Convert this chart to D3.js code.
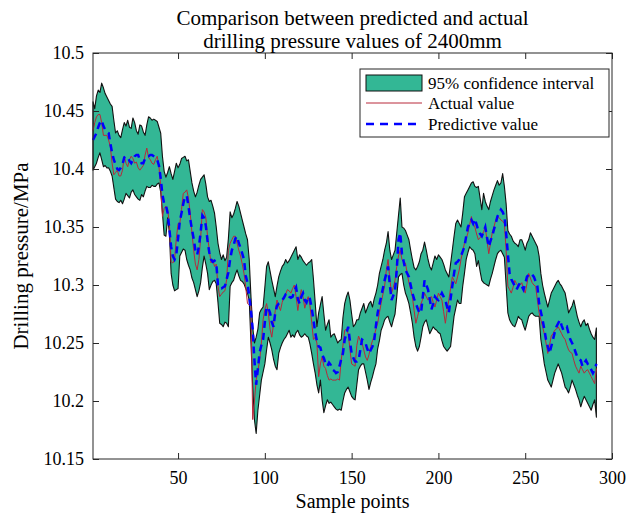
<!DOCTYPE html>
<html>
<head>
<meta charset="utf-8">
<script src="https://cdn.jsdelivr.net/npm/d3@7"></script>
</head>
<body style="margin:0; background:#fff">
<svg id="chart" width="628" height="519"></svg>
<script>
"use strict";

// Chart data
const titleLines = ["Comparison between predicted and actual", "drilling pressure values of 2400mm"];
const xLabel = "Sample points";
const yLabel = "Drilling pressure/MPa";
const xTicks = [50, 100, 150, 200, 250, 300];
const yTicks = [10.15, 10.2, 10.25, 10.3, 10.35, 10.4, 10.45, 10.5];
const yTickLabels = ["10.15", "10.2", "10.25", "10.3", "10.35", "10.4", "10.45", "10.5"];
const legendLabels = ["95% confidence interval", "Actual value", "Predictive value"];

const upper = [
	10.458, 10.452, 10.463, 10.468, 10.466, 10.474, 10.470, 10.465, 10.462, 10.459,
	10.456, 10.454, 10.442, 10.431, 10.433, 10.429, 10.427, 10.434, 10.440, 10.437,
	10.442, 10.436, 10.435, 10.444, 10.440, 10.433, 10.430, 10.438, 10.437, 10.432,
	10.429, 10.438, 10.445, 10.444, 10.442, 10.443, 10.442, 10.441, 10.436, 10.431,
	10.411, 10.398, 10.393, 10.397, 10.402, 10.396, 10.391, 10.398, 10.405, 10.401,
	10.404, 10.409, 10.410, 10.411, 10.407, 10.408, 10.398, 10.388, 10.381, 10.376,
	10.380, 10.386, 10.391, 10.393, 10.395, 10.387, 10.376, 10.372, 10.373, 10.368,
	10.362, 10.350, 10.336, 10.328, 10.322, 10.326, 10.321, 10.324, 10.340, 10.363,
	10.358, 10.361, 10.366, 10.372, 10.368, 10.362, 10.356, 10.350, 10.344, 10.339,
	10.322, 10.290, 10.264, 10.250, 10.255, 10.262, 10.276, 10.279, 10.281, 10.298,
	10.316, 10.320, 10.312, 10.304, 10.297, 10.290, 10.299, 10.307, 10.312, 10.316,
	10.318, 10.322, 10.319, 10.321, 10.324, 10.327, 10.330, 10.333, 10.322, 10.326,
	10.324, 10.321, 10.319, 10.317, 10.319, 10.320, 10.322, 10.305, 10.285, 10.264,
	10.276, 10.283, 10.290, 10.275, 10.261, 10.266, 10.270, 10.255, 10.257, 10.258,
	10.254, 10.250, 10.252, 10.253, 10.272, 10.284, 10.290, 10.294, 10.287, 10.275,
	10.264, 10.266, 10.270, 10.270, 10.276, 10.280, 10.284, 10.276, 10.280, 10.284,
	10.286, 10.281, 10.288, 10.293, 10.300, 10.310, 10.316, 10.322, 10.330, 10.336,
	10.346, 10.330, 10.322, 10.326, 10.330, 10.345, 10.360, 10.375, 10.350, 10.349,
	10.347, 10.343, 10.339, 10.330, 10.322, 10.315, 10.313, 10.316, 10.320, 10.327,
	10.330, 10.337, 10.330, 10.322, 10.316, 10.313, 10.319, 10.325, 10.322, 10.326,
	10.324, 10.322, 10.318, 10.313, 10.310, 10.307, 10.318, 10.330, 10.342, 10.353,
	10.356, 10.353, 10.350, 10.362, 10.376, 10.379, 10.382, 10.385, 10.388, 10.389,
	10.385, 10.384, 10.385, 10.375, 10.365, 10.379, 10.372, 10.368, 10.365, 10.372,
	10.377, 10.382, 10.386, 10.390, 10.386, 10.388, 10.396, 10.385, 10.370, 10.347,
	10.344, 10.342, 10.338, 10.336, 10.335, 10.333, 10.339, 10.339, 10.335, 10.330,
	10.336, 10.339, 10.345, 10.342, 10.339, 10.336, 10.333, 10.325, 10.310, 10.300,
	10.293, 10.287, 10.281, 10.287, 10.293, 10.296, 10.299, 10.302, 10.304, 10.301,
	10.299, 10.296, 10.293, 10.285, 10.276, 10.279, 10.282, 10.287, 10.280, 10.273,
	10.268, 10.264, 10.268, 10.270, 10.265, 10.267, 10.262, 10.258, 10.255, 10.253,
	10.263
];

const lower = [
	10.399, 10.402, 10.405, 10.410, 10.414, 10.408, 10.402, 10.403, 10.401, 10.401,
	10.398, 10.394, 10.384, 10.374, 10.372, 10.371, 10.373, 10.370, 10.374, 10.379,
	10.377, 10.375, 10.380, 10.382, 10.378, 10.376, 10.374, 10.373, 10.378, 10.376,
	10.381, 10.385, 10.384, 10.384, 10.386, 10.385, 10.385, 10.387, 10.388, 10.380,
	10.362, 10.343, 10.342, 10.358, 10.345, 10.310, 10.300, 10.295, 10.296, 10.297,
	10.325, 10.328, 10.331, 10.330, 10.322, 10.317, 10.313, 10.306, 10.302, 10.296,
	10.290, 10.295, 10.302, 10.315, 10.325, 10.318, 10.310, 10.296, 10.300, 10.303,
	10.304, 10.301, 10.285, 10.267, 10.266, 10.264, 10.268, 10.267, 10.264, 10.299,
	10.302, 10.304, 10.309, 10.313, 10.308, 10.304, 10.303, 10.301, 10.297, 10.293,
	10.287, 10.250, 10.212, 10.184, 10.172, 10.192, 10.205, 10.218, 10.225, 10.232,
	10.244, 10.255, 10.250, 10.244, 10.236, 10.230, 10.227, 10.241, 10.246, 10.250,
	10.253, 10.255, 10.258, 10.261, 10.255, 10.257, 10.255, 10.259, 10.261, 10.257,
	10.255, 10.256, 10.258, 10.256, 10.255, 10.249, 10.241, 10.232, 10.224, 10.214,
	10.207, 10.218, 10.201, 10.190, 10.196, 10.201, 10.198, 10.199, 10.197, 10.195,
	10.193, 10.192, 10.193, 10.192, 10.200, 10.207, 10.210, 10.212, 10.208, 10.204,
	10.202, 10.201, 10.214, 10.227, 10.230, 10.232, 10.232, 10.225, 10.218, 10.210,
	10.216, 10.221, 10.227, 10.232, 10.245, 10.252, 10.261, 10.265, 10.270, 10.272,
	10.273, 10.268, 10.264, 10.270, 10.275, 10.290, 10.307, 10.309, 10.310, 10.300,
	10.293, 10.289, 10.284, 10.276, 10.267, 10.255, 10.247, 10.243, 10.247, 10.255,
	10.264, 10.268, 10.270, 10.264, 10.258, 10.261, 10.264, 10.262, 10.261, 10.259,
	10.258, 10.252, 10.247, 10.245, 10.243, 10.245, 10.247, 10.260, 10.273, 10.280,
	10.287, 10.284, 10.284, 10.299, 10.310, 10.322, 10.328, 10.333, 10.331, 10.330,
	10.327, 10.316, 10.321, 10.312, 10.304, 10.302, 10.301, 10.300, 10.299, 10.305,
	10.310, 10.316, 10.322, 10.327, 10.329, 10.330, 10.327, 10.324, 10.300, 10.276,
	10.270, 10.267, 10.265, 10.264, 10.268, 10.273, 10.271, 10.270, 10.265, 10.261,
	10.267, 10.273, 10.275, 10.276, 10.274, 10.273, 10.273, 10.273, 10.253, 10.243,
	10.232, 10.225, 10.218, 10.215, 10.212, 10.218, 10.224, 10.228, 10.232, 10.228,
	10.224, 10.218, 10.212, 10.210, 10.207, 10.212, 10.218, 10.214, 10.210, 10.205,
	10.201, 10.195, 10.200, 10.204, 10.201, 10.198, 10.195, 10.192, 10.197, 10.201,
	10.186
];

const actual = [
	10.433, 10.440, 10.445, 10.447, 10.447, 10.440, 10.429, 10.429, 10.429, 10.425,
	10.419, 10.405, 10.395, 10.397, 10.399, 10.394, 10.394, 10.399, 10.411, 10.405,
	10.402, 10.408, 10.411, 10.409, 10.405, 10.406, 10.401, 10.399, 10.401, 10.403,
	10.412, 10.418, 10.410, 10.408, 10.405, 10.404, 10.408, 10.411, 10.402, 10.385,
	10.359, 10.366, 10.368, 10.365, 10.353, 10.320, 10.319, 10.322, 10.340, 10.353,
	10.353, 10.365, 10.379, 10.380, 10.382, 10.375, 10.362, 10.345, 10.330, 10.318,
	10.313, 10.322, 10.340, 10.365, 10.363, 10.358, 10.342, 10.330, 10.319, 10.322,
	10.316, 10.318, 10.299, 10.290, 10.292, 10.294, 10.295, 10.305, 10.330, 10.336,
	10.339, 10.342, 10.342, 10.336, 10.330, 10.325, 10.318, 10.310, 10.298, 10.284,
	10.283, 10.282, 10.184, 10.200, 10.218, 10.226, 10.235, 10.250, 10.270, 10.279,
	10.284, 10.276, 10.262, 10.255, 10.266, 10.278, 10.287, 10.282, 10.278, 10.285,
	10.290, 10.292, 10.296, 10.295, 10.293, 10.297, 10.300, 10.290, 10.278, 10.288,
	10.296, 10.290, 10.280, 10.286, 10.290, 10.282, 10.268, 10.253, 10.255, 10.250,
	10.221, 10.232, 10.238, 10.230, 10.228, 10.222, 10.218, 10.219, 10.218, 10.218,
	10.218, 10.219, 10.218, 10.235, 10.248, 10.261, 10.262, 10.258, 10.245, 10.232,
	10.231, 10.230, 10.248, 10.256, 10.252, 10.250, 10.244, 10.238, 10.235, 10.240,
	10.247, 10.252, 10.256, 10.262, 10.267, 10.276, 10.284, 10.292, 10.299, 10.313,
	10.322, 10.305, 10.293, 10.298, 10.304, 10.316, 10.325, 10.330, 10.322, 10.320,
	10.319, 10.310, 10.302, 10.296, 10.290, 10.278, 10.267, 10.273, 10.279, 10.284,
	10.288, 10.293, 10.290, 10.287, 10.289, 10.290, 10.285, 10.281, 10.287, 10.293,
	10.290, 10.287, 10.277, 10.267, 10.278, 10.287, 10.297, 10.307, 10.304, 10.301,
	10.307, 10.313, 10.322, 10.329, 10.336, 10.340, 10.345, 10.352, 10.359, 10.353,
	10.350, 10.344, 10.339, 10.341, 10.342, 10.346, 10.350, 10.338, 10.327, 10.336,
	10.345, 10.350, 10.356, 10.359, 10.358, 10.356, 10.355, 10.353, 10.330, 10.299,
	10.296, 10.293, 10.298, 10.304, 10.301, 10.299, 10.300, 10.302, 10.297, 10.293,
	10.301, 10.310, 10.306, 10.302, 10.300, 10.299, 10.287, 10.276, 10.270, 10.264,
	10.258, 10.250, 10.241, 10.248, 10.256, 10.258, 10.261, 10.262, 10.264, 10.261,
	10.258, 10.255, 10.253, 10.248, 10.244, 10.242, 10.241, 10.235, 10.230, 10.227,
	10.224, 10.230, 10.227, 10.224, 10.226, 10.227, 10.224, 10.221, 10.218, 10.215,
	10.228
];

const predicted = [
	10.425, 10.428, 10.431, 10.436, 10.440, 10.442, 10.437, 10.434, 10.432, 10.431,
	10.422, 10.414, 10.408, 10.404, 10.400, 10.399, 10.401, 10.404, 10.410, 10.411,
	10.410, 10.407, 10.405, 10.408, 10.411, 10.412, 10.412, 10.408, 10.405, 10.405,
	10.409, 10.411, 10.411, 10.412, 10.412, 10.411, 10.410, 10.408, 10.403, 10.392,
	10.378, 10.370, 10.369, 10.362, 10.348, 10.333, 10.325, 10.322, 10.326, 10.340,
	10.355, 10.362, 10.370, 10.376, 10.377, 10.368, 10.357, 10.348, 10.340, 10.330,
	10.326, 10.333, 10.345, 10.360, 10.358, 10.351, 10.338, 10.328, 10.322, 10.320,
	10.321, 10.319, 10.300, 10.297, 10.297, 10.298, 10.299, 10.305, 10.311, 10.322,
	10.330, 10.334, 10.340, 10.342, 10.336, 10.332, 10.327, 10.322, 10.308, 10.302,
	10.290, 10.278, 10.262, 10.235, 10.214, 10.228, 10.242, 10.248, 10.253, 10.268,
	10.281, 10.280, 10.276, 10.268, 10.264, 10.276, 10.282, 10.284, 10.285, 10.287,
	10.289, 10.292, 10.293, 10.290, 10.289, 10.290, 10.295, 10.298, 10.288, 10.284,
	10.290, 10.293, 10.287, 10.285, 10.290, 10.288, 10.280, 10.270, 10.259, 10.252,
	10.247, 10.246, 10.240, 10.237, 10.232, 10.230, 10.233, 10.231, 10.227, 10.226,
	10.224, 10.225, 10.230, 10.236, 10.241, 10.253, 10.258, 10.264, 10.252, 10.241,
	10.237, 10.234, 10.234, 10.235, 10.244, 10.253, 10.252, 10.250, 10.245, 10.241,
	10.244, 10.247, 10.252, 10.265, 10.276, 10.283, 10.290, 10.297, 10.304, 10.310,
	10.316, 10.300, 10.287, 10.291, 10.295, 10.313, 10.339, 10.345, 10.327, 10.320,
	10.313, 10.310, 10.307, 10.300, 10.293, 10.288, 10.284, 10.280, 10.276, 10.276,
	10.290, 10.304, 10.300, 10.296, 10.288, 10.279, 10.284, 10.290, 10.288, 10.287,
	10.290, 10.293, 10.290, 10.287, 10.281, 10.276, 10.288, 10.299, 10.310, 10.319,
	10.320, 10.322, 10.325, 10.329, 10.333, 10.342, 10.350, 10.353, 10.356, 10.353,
	10.357, 10.352, 10.347, 10.344, 10.342, 10.346, 10.350, 10.341, 10.333, 10.338,
	10.342, 10.348, 10.353, 10.359, 10.362, 10.365, 10.363, 10.359, 10.345, 10.327,
	10.310, 10.305, 10.302, 10.299, 10.296, 10.299, 10.302, 10.299, 10.296, 10.301,
	10.307, 10.309, 10.310, 10.309, 10.307, 10.303, 10.299, 10.284, 10.277, 10.270,
	10.262, 10.253, 10.247, 10.241, 10.247, 10.253, 10.259, 10.264, 10.267, 10.270,
	10.265, 10.261, 10.263, 10.264, 10.258, 10.253, 10.250, 10.247, 10.242, 10.238,
	10.236, 10.235, 10.230, 10.233, 10.235, 10.232, 10.230, 10.227, 10.224, 10.227,
	10.232
];

// Layout
const margin = {left: 93, right: 16, top: 53, bottom: 60};
const width = 628, height = 519;
const serif = "'Liberation Serif'";
const bandColor = "#33b795";
const redColor = "#b8283a";
const blueColor = "#0000ff";
const axisColor = "#262626";

const svg = d3.select("#chart");

const x = d3.scaleLinear()
	.domain([1, 300])
	.range([margin.left, width - margin.right]);
const y = d3.scaleLinear()
	.domain([10.15, 10.5])
	.range([height - margin.bottom, margin.top]);

const points = upper.map((u, i) => ({
	i: i + 1,
	upper: u,
	lower: lower[i],
	actual: actual[i],
	predicted: predicted[i]
}));

// Confidence band
const area = d3.area()
	.x(d => x(d.i))
	.y0(d => y(d.lower))
	.y1(d => y(d.upper));

svg.append("path")
	.datum(points)
	.attr("d", area)
	.attr("fill", bandColor)
	.attr("stroke", "#111")
	.attr("stroke-width", 1.1)
	.attr("stroke-linejoin", "round");

// Actual and predicted lines
const line = key => d3.line()
	.x(d => x(d.i))
	.y(d => y(d[key]));

svg.append("path")
	.datum(points)
	.attr("d", line("actual"))
	.attr("fill", "none")
	.attr("stroke", redColor)
	.attr("stroke-width", 1);

svg.append("path")
	.datum(points)
	.attr("d", line("predicted"))
	.attr("fill", "none")
	.attr("stroke", blueColor)
	.attr("stroke-width", 2.5)
	.attr("stroke-dasharray", "7,5");

// Axes (MATLAB-like box with inward ticks)
const fmt = v => yTickLabels[yTicks.indexOf(v)];
const x0 = margin.left, x1 = width - margin.right;
const y0 = height - margin.bottom, y1 = margin.top;

function styleAxis(g) {
	g.select(".domain").remove();
	g.selectAll(".tick line").attr("stroke", axisColor);
	g.selectAll(".tick text")
		.style("font-family", serif)
		.style("font-size", "18px")
		.attr("fill", "#000");
}

svg.append("g")
	.attr("transform", `translate(0,${y0})`)
	.call(d3.axisBottom(x).tickValues(xTicks).tickSize(-6).tickPadding(12).tickFormat(d3.format("d")))
	.call(styleAxis);
svg.append("g")
	.attr("transform", `translate(0,${y1})`)
	.call(d3.axisTop(x).tickValues(xTicks).tickSize(-6).tickFormat(""))
	.call(styleAxis);
svg.append("g")
	.attr("transform", `translate(${x0},0)`)
	.call(d3.axisLeft(y).tickValues(yTicks).tickSize(-6).tickPadding(9).tickFormat(fmt))
	.call(styleAxis);
svg.append("g")
	.attr("transform", `translate(${x1},0)`)
	.call(d3.axisRight(y).tickValues(yTicks).tickSize(-6).tickFormat(""))
	.call(styleAxis);

svg.append("rect")
	.attr("x", x0)
	.attr("y", y1)
	.attr("width", x1 - x0)
	.attr("height", y0 - y1)
	.attr("fill", "none")
	.attr("stroke", axisColor)
	.attr("stroke-width", 1);

// Title and labels
const addText = (tx, ty, size, txt) => svg.append("text")
	.attr("x", tx)
	.attr("y", ty)
	.attr("text-anchor", "middle")
	.style("font-family", serif)
	.style("font-size", size + "px")
	.text(txt);

addText((x0 + x1) / 2, 25, 21, titleLines[0]);
addText((x0 + x1) / 2, 48, 21, titleLines[1]);
addText((x0 + x1) / 2, 508, 20, xLabel);

svg.append("text")
	.attr("transform", `translate(28,${(y0 + y1) / 2}) rotate(-90)`)
	.attr("text-anchor", "middle")
	.style("font-family", serif)
	.style("font-size", "21px")
	.text(yLabel);

// Legend
const legend = svg.append("g").attr("transform", "translate(360,69)");
legend.append("rect")
	.attr("width", 249)
	.attr("height", 68)
	.attr("fill", "#fff")
	.attr("stroke", axisColor)
	.attr("stroke-width", 1);

const rowY = [14, 34, 55];
legend.append("rect")
	.attr("x", 6).attr("y", rowY[0] - 8)
	.attr("width", 56).attr("height", 16)
	.attr("fill", bandColor)
	.attr("stroke", "#111");
legend.append("line")
	.attr("x1", 6).attr("x2", 62)
	.attr("y1", rowY[1]).attr("y2", rowY[1])
	.attr("stroke", redColor).attr("stroke-width", 1);
legend.append("line")
	.attr("x1", 6).attr("x2", 62)
	.attr("y1", rowY[2]).attr("y2", rowY[2])
	.attr("stroke", blueColor).attr("stroke-width", 2.5)
	.attr("stroke-dasharray", "8,6");

legend.selectAll("text.label")
	.data(legendLabels)
	.enter()
	.append("text")
	.attr("class", "label")
	.attr("x", 68)
	.attr("y", (d, i) => rowY[i] + 6)
	.style("font-family", serif)
	.style("font-size", "17px")
	.text(d => d);
</script>
</body>
</html>
